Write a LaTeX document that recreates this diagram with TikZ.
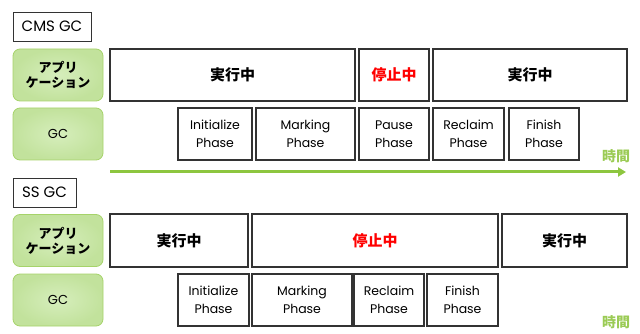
\documentclass[tikz,border=0pt]{standalone}
\usepackage{fontspec}
\setmainfont{Poppins}
\newfontfamily\jp{Noto Sans CJK JP}
\usetikzlibrary{arrows.meta}
\definecolor{lbfill}{HTML}{D6EEBC}
\definecolor{lbout}{HTML}{C2E29C}
\definecolor{lbdraw}{HTML}{A6D36A}
\definecolor{arrowgreen}{HTML}{8DC63F}
\definecolor{timegreen}{HTML}{9BCB55}
\tikzset{
  x=1pt, y=-1pt,
  box/.style={draw=black!80, line width=1.1pt, inner sep=0pt, align=center},
  title/.style={box, line width=0.9pt, minimum height=29pt, font=\fontsize{15}{18}\selectfont},
  lab/.style={draw=lbdraw, line width=0.8pt, rounded corners=7pt, inner color=lbfill, outer color=lbout,
    minimum width=90pt, minimum height=52pt, inner sep=0pt, align=center},
  applab/.style={lab, font=\jp\bfseries\fontsize{13}{15}\selectfont},
  gclab/.style={lab, font=\fontsize{13}{15}\selectfont},
  run/.style={box, minimum height=52pt, font=\jp\bfseries\fontsize{15}{18}\selectfont},
  stop/.style={run, text=red},
  phase/.style={box, minimum height=52pt, font=\fontsize{12.5}{18}\selectfont},
  timelab/.style={text=timegreen, font=\jp\bfseries\fontsize{14}{16}\selectfont, inner sep=0pt},
  timearrow/.style={draw=arrowgreen, line width=3pt, -{Triangle[length=8pt,width=9pt]}}
}
\begin{document}
\begin{tikzpicture}
\useasboundingbox (0,0) rectangle (640,334);
% ---- CMS GC ----
\node[title, minimum width=78pt] (cms) at (52,26.5) {CMS GC};
\node[applab] (app1) at (58,75) {アプリ\\ケーション};
\node[gclab] (gc1) at (58,134) {GC};
\node[run, minimum width=245pt] (r1) at (232.5,75) {実行中};
\node[stop, minimum width=70pt] (s1) at (394,75) {停止中};
\node[run, minimum width=194pt] (r2) at (530,75) {実行中};
\node[phase, minimum width=74pt] (i1) at (215,134) {Initialize\\Phase};
\node[phase, minimum width=99pt] (m1) at (305.5,134) {Marking\\Phase};
\node[phase, minimum width=70pt] (p1) at (394,134) {Pause\\Phase};
\node[phase, minimum width=71pt] (c1) at (468.5,134) {Reclaim\\Phase};
\node[phase, minimum width=70pt] (f1) at (544,134) {Finish\\Phase};
\node[timelab] (t1) at (616,156) {時間};
\coordinate (a1s) at (110,172);
\coordinate (a1e) at (626,172);
\draw[timearrow] (a1s) -- (a1e);
% ---- SS GC ----
\node[title, minimum width=63pt] (ss) at (44.5,192.5) {SS GC};
\node[applab] (app2) at (58,240.5) {アプリ\\ケーション};
\node[gclab] (gc2) at (58,300) {GC};
\node[run, minimum width=138pt, minimum height=53pt] (r3) at (179,240.5) {実行中};
\node[stop, minimum width=246pt, minimum height=53pt] (s2) at (375,240.5) {停止中};
\node[run, minimum width=125pt, minimum height=53pt] (r4) at (564.5,240.5) {実行中};
\node[phase, minimum width=71pt] (i2) at (213.5,300) {Initialize\\Phase};
\node[phase, minimum width=100pt] (m2) at (302,300) {Marking\\Phase};
\node[phase, minimum width=70pt] (c2) at (389,300) {Reclaim\\Phase};
\node[phase, minimum width=71pt] (f2) at (462.5,300) {Finish\\Phase};
\node[timelab] (t2) at (616,322) {時間};
\end{tikzpicture}
\end{document}
